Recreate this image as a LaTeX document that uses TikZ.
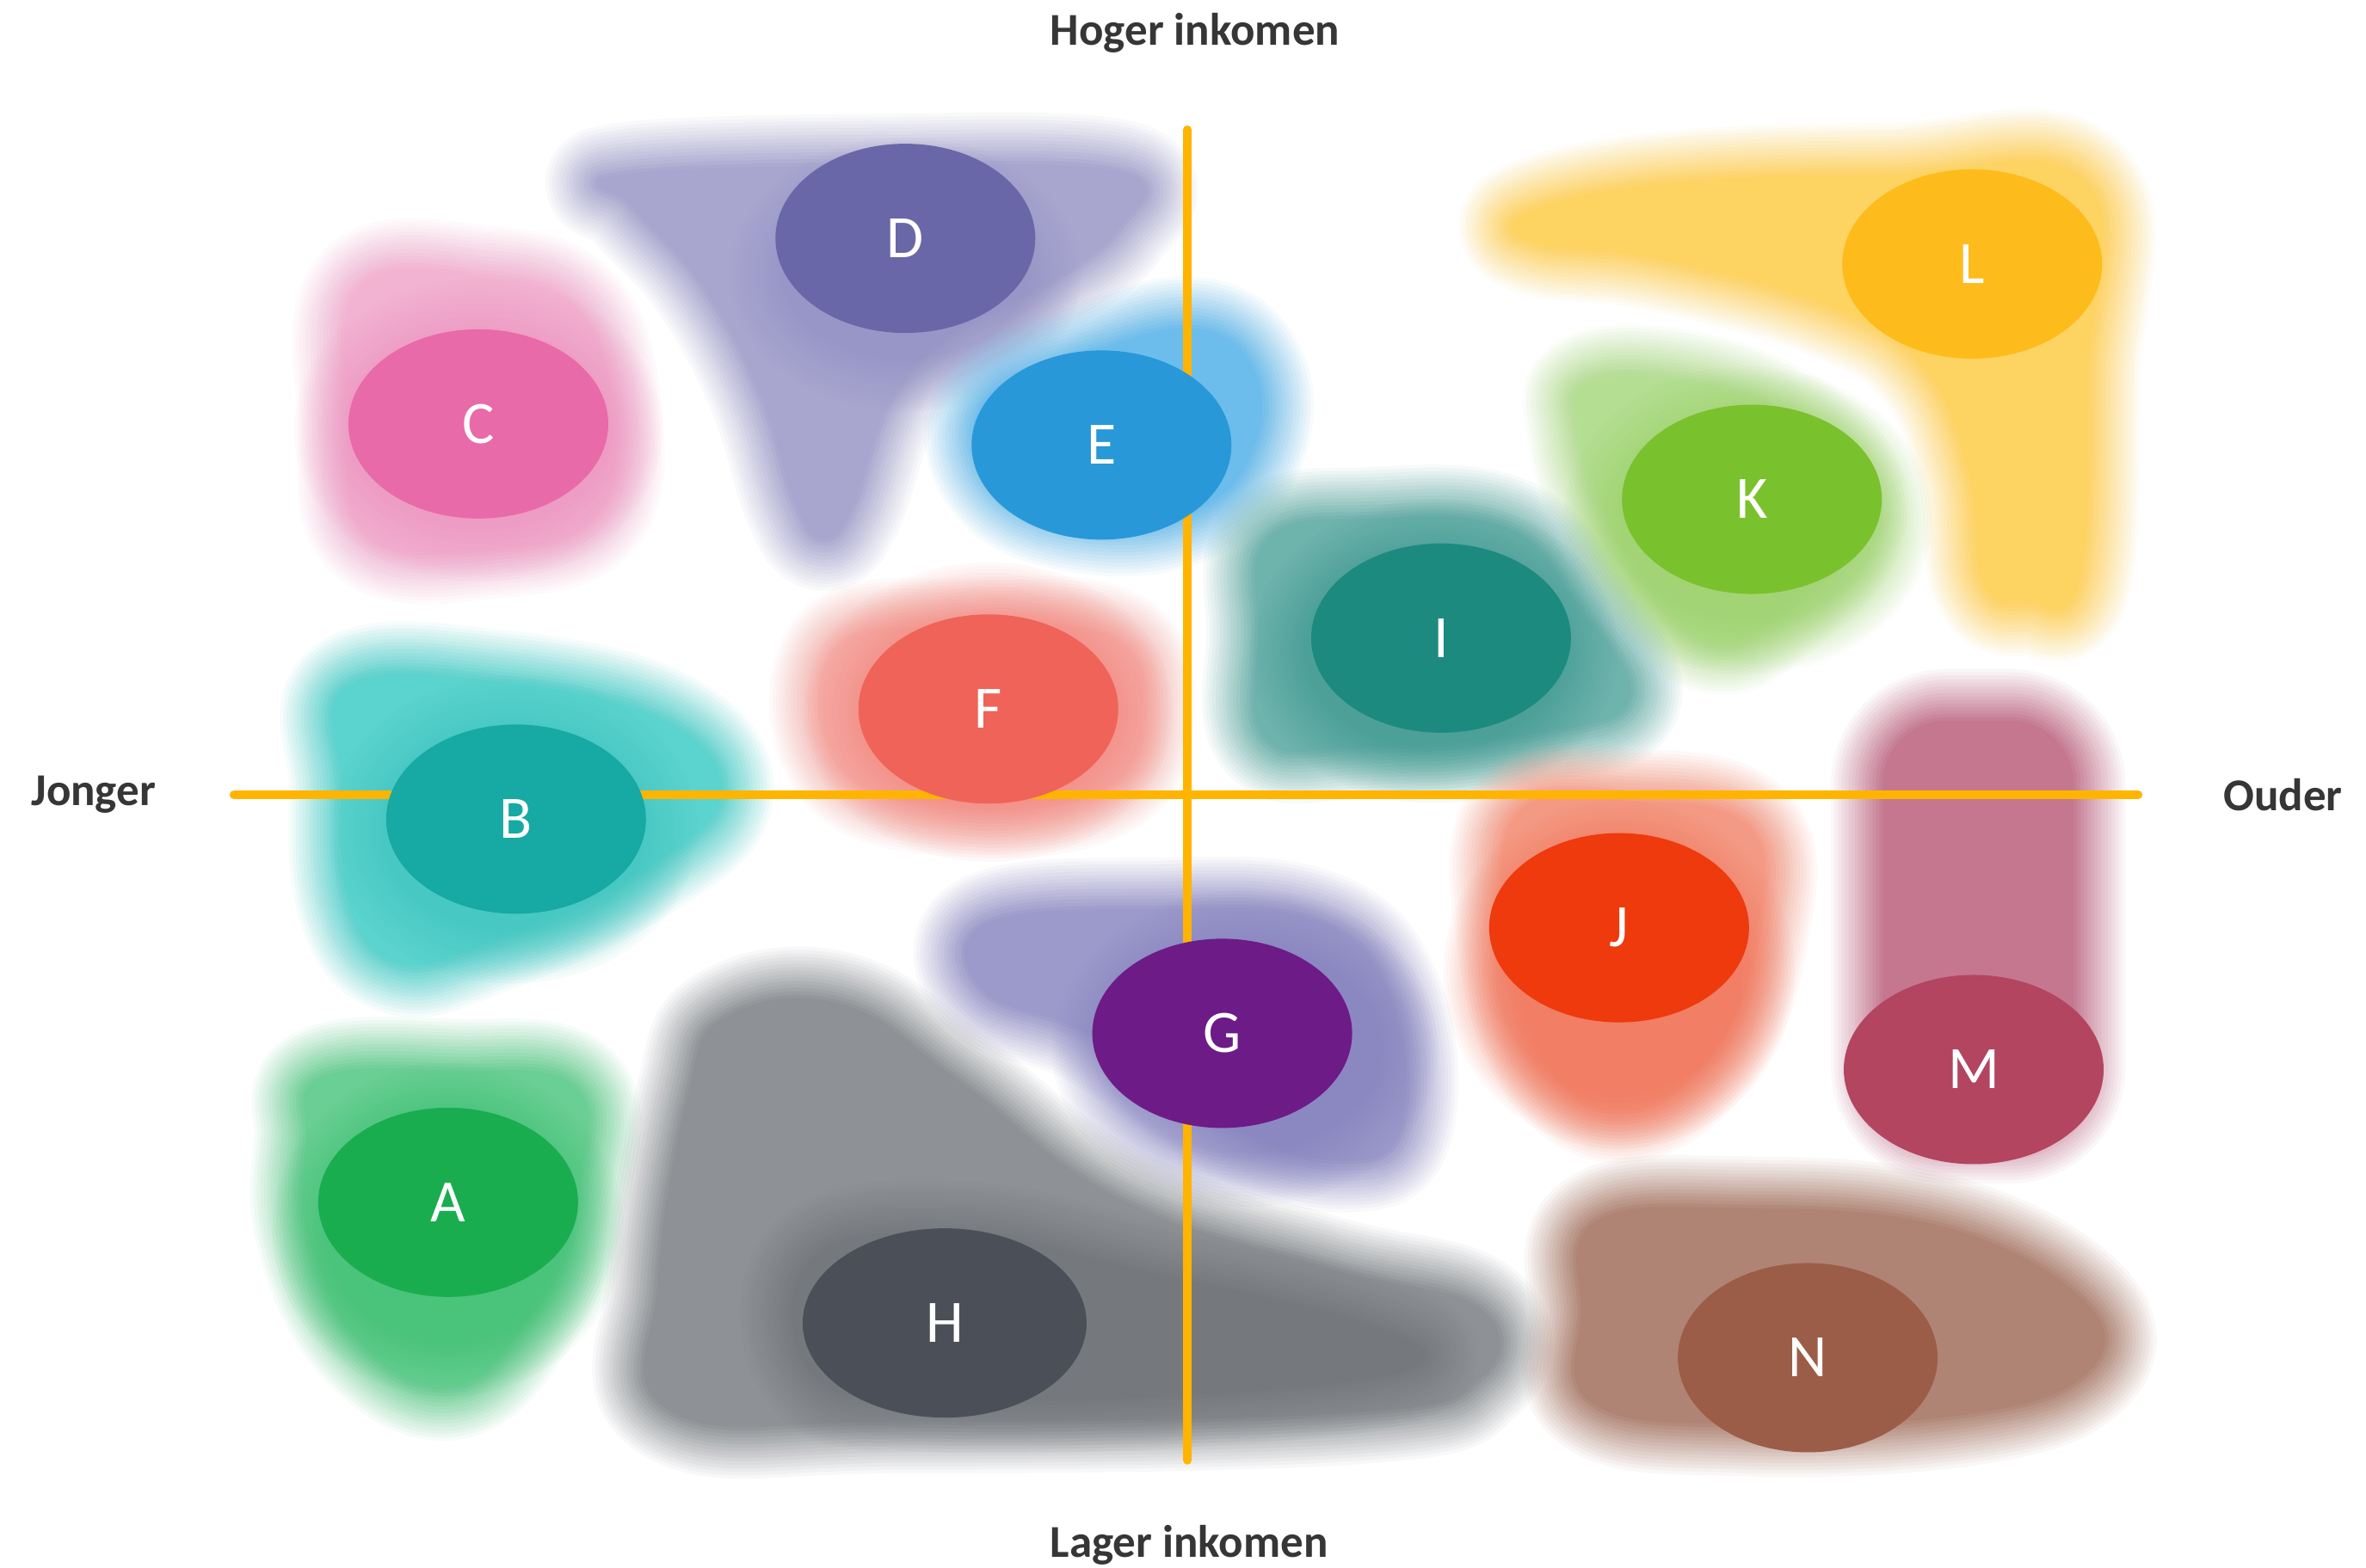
\documentclass[tikz,border=0pt]{standalone}
\usepackage{fontspec}
\setmainfont{Carlito}
\usetikzlibrary{shapes.geometric}
\definecolor{axisc}{HTML}{FFB400}
\definecolor{labc}{HTML}{363636}
\definecolor{cA}{HTML}{1AAD50}\definecolor{bA}{HTML}{6ACF94}\definecolor{gA}{HTML}{3DBE71}
\definecolor{cB}{HTML}{17A9A3}\definecolor{bB}{HTML}{5BD3CE}\definecolor{gB}{HTML}{40C4BF}
\definecolor{cC}{HTML}{E96AA8}\definecolor{bC}{HTML}{F2B3D2}\definecolor{gC}{HTML}{EC93BF}
\definecolor{cD}{HTML}{6A67A8}\definecolor{bD}{HTML}{A8A6CF}\definecolor{gD}{HTML}{9290C3}
\definecolor{cE}{HTML}{2998D8}\definecolor{bE}{HTML}{6CBDEB}
\definecolor{cF}{HTML}{F06358}\definecolor{bF}{HTML}{F6B0AA}\definecolor{gF}{HTML}{F28880}
\definecolor{cG}{HTML}{6D1B87}\definecolor{bG}{HTML}{9C99CB}\definecolor{gG}{HTML}{8582BE}
\definecolor{cH}{HTML}{4B5058}\definecolor{bH}{HTML}{8E9195}\definecolor{gH}{HTML}{6F7378}
\definecolor{cI}{HTML}{1D8A80}\definecolor{bI}{HTML}{6FB3AD}\definecolor{gI}{HTML}{3F9990}
\definecolor{cJ}{HTML}{EE3A0C}\definecolor{bJ}{HTML}{F49A84}\definecolor{gJ}{HTML}{F07358}
\definecolor{cK}{HTML}{7AC12E}\definecolor{bK}{HTML}{B4DE91}\definecolor{gK}{HTML}{9BD16A}
\definecolor{cL}{HTML}{FEBB1C}\definecolor{bL}{HTML}{FDD462}
\definecolor{cM}{HTML}{B34561}\definecolor{bM}{HTML}{C57790}
\definecolor{cN}{HTML}{9C5D48}\definecolor{bN}{HTML}{B08474}
% soft-edged shape: layered strokes give a linear fade of 64pt outside the path
\newcommand\softpath[2]{%
  \foreach \k in {1,...,16}{%
    \draw[#1, opacity={1/(\k+0.5)}, line width=\k*8pt, line join=round] #2;
  }%
  \fill[#1] #2;
}
\newcommand\softblob[2]{\softpath{#1}{plot[smooth cycle, tension=0.7] coordinates {#2}}}
\newcommand\softglow[4]{%
  \begin{scope}[transparency group, opacity=0.7]
    \softpath{#1}{(#2) ellipse [x radius=#3pt, y radius=#4pt]}
  \end{scope}}
\tikzset{
  seg/.style={ellipse, minimum width=302pt, minimum height=220pt, inner sep=0pt,
    text=white, font=\fontsize{70}{80}\selectfont},
  axisline/.style={draw=axisc, line width=10pt, line cap=round},
  axislabel/.style={text=labc, font=\bfseries\fontsize{53}{60}\selectfont, inner sep=0pt}
}
\begin{document}
\begin{tikzpicture}[x=1.7538pt,y=-1.7538pt]
\useasboundingbox[fill=white] (0,0) rectangle (1568,1039.4);
% soft backgrounds
\softblob{bD}{(412,118) (580,112) (742,116) (740,150) (695,185) (628,220) (588,265) (563,335) (545,355) (528,330) (505,258) (466,186) (420,135)}
\softglow{gD}{600,182}{140}{95}
\softblob{bC}{(240,192) (320,186) (380,206) (402,272) (393,340) (328,360) (246,354) (234,280)}
\softglow{gC}{317,285}{150}{112}
\softblob{bE}{(655,268) (722,236) (792,220) (830,248) (828,298) (795,334) (730,345) (664,322)}
\softblob{bL}{(1012,143) (1100,124) (1250,118) (1380,121) (1382,250) (1376,385) (1345,398) (1316,385) (1306,310) (1276,242) (1214,202) (1100,170) (1020,160)}
\softblob{bK}{(1052,257) (1100,253) (1168,272) (1220,312) (1222,358) (1178,403) (1140,424) (1104,398) (1062,330) (1048,282)}
\softglow{gK}{1158,345}{150}{115}
\softblob{bI}{(842,358) (910,346) (998,352) (1044,402) (1078,462) (1018,484) (900,493) (840,488) (836,420)}
\softglow{gI}{950,432}{150}{112}
\softblob{bF}{(556,432) (640,420) (735,425) (755,470) (734,518) (650,532) (562,510)}
\softglow{gF}{655,472}{150}{110}
\softblob{bB}{(232,456) (330,454) (436,478) (476,526) (426,574) (320,624) (264,636) (233,598) (228,520)}
\softglow{gB}{340,550}{150}{115}
\softblob{bJ}{(1006,542) (1080,533) (1158,550) (1162,620) (1134,694) (1080,734) (1030,708) (1003,630)}
\softglow{gJ}{1073,645}{140}{140}
\softpath{bM}{[rounded corners=70pt] (1250,480) rectangle (1372,748)}
\softblob{bG}{(655,614) (760,605) (870,612) (920,662) (927,745) (893,767) (822,748) (724,684) (654,656)}
\softglow{gG}{825,695}{160}{120}
\softblob{bA}{(214,716) (300,712) (380,722) (380,790) (350,868) (300,918) (240,888) (206,818) (205,755)}
\softglow{gA}{297,815}{140}{130}
\softblob{bH}{(482,676) (558,668) (634,718) (740,796) (878,842) (978,868) (980,912) (900,934) (600,940) (446,934) (438,850) (458,726)}
\begin{scope}[transparency group, opacity=0.8]
\softblob{gH}{(540,835) (640,820) (760,845) (900,878) (935,905) (800,922) (620,926) (540,910)}
\end{scope}
\softblob{bN}{(1058,812) (1150,803) (1286,815) (1380,864) (1380,910) (1298,936) (1150,942) (1056,928) (1050,870)}
% axes
\coordinate (xl) at (155,527);
\coordinate (xr) at (1417,527);
\coordinate (yt) at (787,86);
\coordinate (yb) at (787,968);
\draw[axisline] (xl) -- (xr);
\draw[axisline] (yt) -- (yb);
% segments
\node[seg, fill=cD] (D) at (600,158) {D};
\node[seg, fill=cC] (C) at (317,281) {C};
\node[seg, fill=cE] (E) at (730,295) {E};
\node[seg, fill=cL] (L) at (1307,175) {L};
\node[seg, fill=cK] (K) at (1161,331) {K};
\node[seg, fill=cI] (I) at (955,423) {I};
\node[seg, fill=cF] (F) at (655,470) {F};
\node[seg, fill=cB] (B) at (342,543) {B};
\node[seg, fill=cJ] (J) at (1073,615) {J};
\node[seg, fill=cM] (M) at (1308,709) {M};
\node[seg, fill=cG] (G) at (810,685) {G};
\node[seg, fill=cA] (A) at (297,797) {A};
\node[seg, fill=cH, minimum width=330pt] (H) at (626,877) {H};
\node[seg, fill=cN] (N) at (1198,900) {N};
% axis labels
\node[axislabel] (hi) at (792,22) {Hoger inkomen};
\node[axislabel] (lo) at (788,1024) {Lager inkomen};
\node[axislabel] (jo) at (62,527) {Jonger};
\node[axislabel] (ou) at (1513,527) {Ouder};
\end{tikzpicture}
\end{document}
